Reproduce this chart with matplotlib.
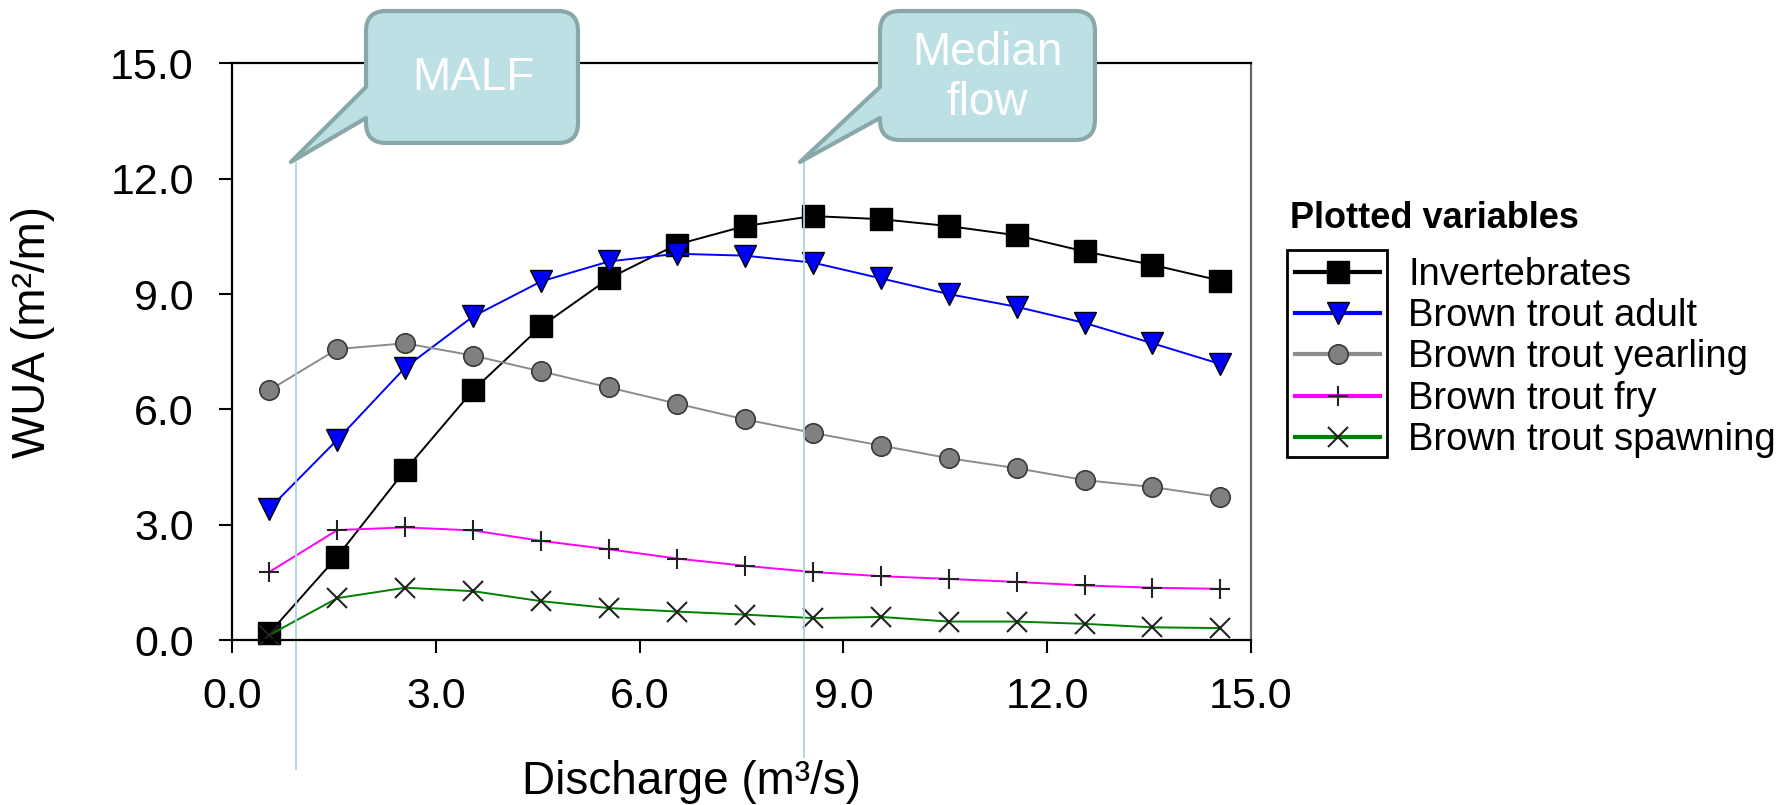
import numpy as np
import matplotlib
matplotlib.use('Agg')
import matplotlib.pyplot as plt
from matplotlib.path import Path
from matplotlib.patches import PathPatch, Rectangle
from matplotlib.lines import Line2D
from matplotlib.transforms import blended_transform_factory

plt.rcParams['font.family'] = ['Liberation Sans', 'DejaVu Sans']

# Data
discharge = [0.55, 1.55, 2.55, 3.55, 4.55, 5.55, 6.55, 7.55, 8.55, 9.55, 10.55, 11.55, 12.55, 13.55, 14.55]
invertebrates = [0.18, 2.17, 4.42, 6.50, 8.16, 9.41, 10.29, 10.77, 11.03, 10.95, 10.77, 10.53, 10.11, 9.76, 9.35]
trout_adult = [3.42, 5.21, 7.09, 8.42, 9.33, 9.85, 10.05, 10.00, 9.82, 9.41, 9.00, 8.67, 8.25, 7.72, 7.18]
trout_yearling = [6.50, 7.57, 7.72, 7.40, 6.99, 6.57, 6.15, 5.74, 5.39, 5.06, 4.73, 4.47, 4.16, 3.98, 3.72]
trout_fry = [1.77, 2.86, 2.93, 2.85, 2.58, 2.36, 2.12, 1.93, 1.77, 1.66, 1.59, 1.51, 1.42, 1.36, 1.33]
trout_spawning = [0.13, 1.09, 1.36, 1.27, 1.01, 0.83, 0.74, 0.66, 0.57, 0.60, 0.48, 0.48, 0.42, 0.33, 0.31]

labels = ['Invertebrates', 'Brown trout adult', 'Brown trout yearling',
          'Brown trout fry', 'Brown trout spawning']
ticks = [0.0, 3.0, 6.0, 9.0, 12.0, 15.0]
malf = 0.94
median_flow = 8.42

W, H = 1786, 805

def fxy(x, y):
    # pixel (from top-left) -> figure fraction
    return (x / W, 1 - y / H)

# line styles per series
styles = [
    dict(color='black', marker='s', ms=15.5, mfc='black', mec='black', mew=1),
    dict(color='#0000ff', marker='v', ms=15.5, mfc='#0000ff', mec='black', mew=1),
    dict(color='#8c8c8c', marker='o', ms=14, mfc='#808080', mec='#3a3a3a', mew=1.2),
    dict(color='#ff00ff', marker='+', ms=15, mfc='none', mec='#222222', mew=1.5),
    dict(color='#008000', marker='x', ms=14, mfc='none', mec='#222222', mew=1.5),
]
series = [invertebrates, trout_adult, trout_yearling, trout_fry, trout_spawning]

fig = plt.figure(figsize=(W / 100, H / 100), dpi=100)
ax = fig.add_axes([232 / W, 165 / H, 1019 / W, 576.5 / H])

for vals, st in zip(series, styles):
    ax.plot(discharge, vals, lw=1.4, clip_on=False, **st)

ax.set_xlim(0, 15)
ax.set_ylim(0, 15)
ax.set_xticks(ticks)
ax.set_yticks(ticks)
ax.set_xticklabels(['%.1f' % t for t in ticks])
ax.set_yticklabels(['%.1f' % t for t in ticks])
ax.tick_params(axis='both', direction='out', length=9.5, width=1.5, labelsize=31,
               top=False, right=False)
ax.tick_params(axis='x', pad=17)
ax.tick_params(axis='y', pad=18)
for s in ['left', 'bottom', 'top']:
    ax.spines[s].set_linewidth(1.6)
    ax.spines[s].set_color('black')
ax.spines['right'].set_linewidth(1.6)
ax.spines['right'].set_color('#666666')

ax.set_xlabel('Discharge (m³/s)', fontsize=33)
ax.xaxis.set_label_coords(0.451, -0.208)
ax.set_ylabel('WUA (m²/m)', fontsize=33)
ax.yaxis.set_label_coords(-0.174, 0.535)

# vertical marker lines (x in data, y in figure)
trans = blended_transform_factory(ax.transData, fig.transFigure)
ax.add_line(Line2D([malf, malf], [1 - 163 / H, 1 - 769 / H], transform=trans,
                   color='#a8d6dd', lw=1.3, clip_on=False))
ax.add_line(Line2D([median_flow, median_flow], [1 - 163 / H, 1 - 757 / H], transform=trans,
                   color='#a8d6dd', lw=1.3, clip_on=False))


def callout(left, right, top, bottom, tip, a1=87, a2=118, r=20):
    pts = [
        ((left + r, top), Path.MOVETO),
        ((right - r, top), Path.LINETO),
        ((right, top), Path.CURVE3), ((right, top + r), Path.CURVE3),
        ((right, bottom - r), Path.LINETO),
        ((right, bottom), Path.CURVE3), ((right - r, bottom), Path.CURVE3),
        ((left + r, bottom), Path.LINETO),
        ((left, bottom), Path.CURVE3), ((left, bottom - r), Path.CURVE3),
        ((left, a2), Path.LINETO),
        (tip, Path.LINETO),
        ((left, a1), Path.LINETO),
        ((left, top + r), Path.LINETO),
        ((left, top), Path.CURVE3), ((left + r, top), Path.CURVE3),
        ((left + r, top), Path.CLOSEPOLY),
    ]
    verts = [fxy(*p) for p, c in pts]
    codes = [c for p, c in pts]
    patch = PathPatch(Path(verts, codes), transform=fig.transFigure,
                      facecolor='#bde0e4', edgecolor='#8aa8aa', lw=3,
                      joinstyle='round', zorder=5)
    fig.add_artist(patch)


malf_px = ax.transData.transform((malf, 0))[0]
med_px = ax.transData.transform((median_flow, 0))[0]
callout(366, 578, 11, 143, (malf_px - 5, 162))
callout(880, 1095, 11, 140, (med_px - 4, 162))
fig.text(*fxy(473, 78), 'MALF', color='white', fontsize=33,
         ha='center', va='center', zorder=6)
fig.text(*fxy(987, 78), 'Median\nflow', color='white', fontsize=33,
         ha='center', va='center', linespacing=1.2, zorder=6)

# legend, drawn by hand: frame only around the line samples
fig.text(*fxy(1290, 228), 'Plotted variables', fontsize=26, fontweight='bold',
         ha='left', va='baseline')
fig.add_artist(Rectangle(fxy(1287, 457), 100 / W, 207 / H, transform=fig.transFigure,
                         fill=False, edgecolor='black', lw=2))
row_y = [272, 313, 354, 396, 437]
for lab, st, yy in zip(labels, styles, row_y):
    x0, y0 = fxy(1295, yy)
    x1, _ = fxy(1380, yy)
    xm, _ = fxy(1338, yy)
    fig.add_artist(Line2D([x0, x1], [y0, y0], transform=fig.transFigure,
                          color=st['color'], lw=3))
    mk = {k: v for k, v in st.items() if k != 'color'}
    fig.add_artist(Line2D([xm], [y0], transform=fig.transFigure, ls='none', **mk))
    fig.text(*fxy(1408, yy + 3), lab, fontsize=27.5, ha='left', va='center')

fig.savefig('out.png', dpi=100)
